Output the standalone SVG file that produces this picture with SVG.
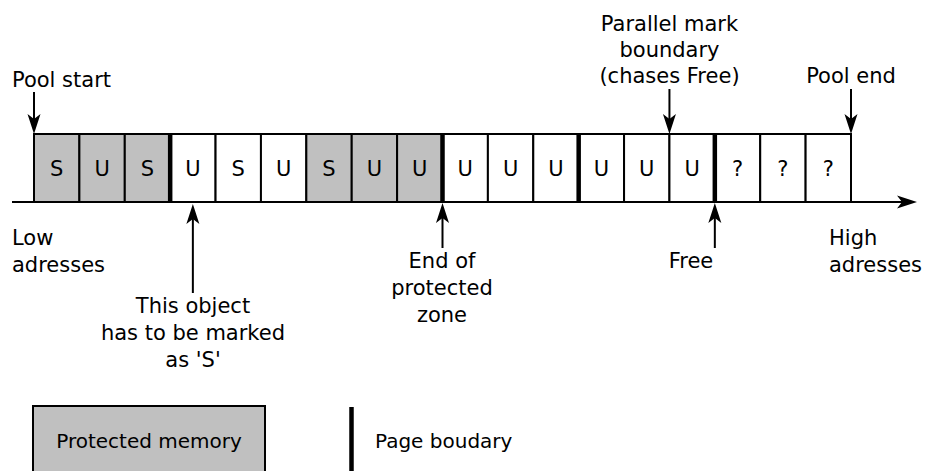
<svg xmlns="http://www.w3.org/2000/svg" width="927" height="471" viewBox="0 0 927 471">
  <style>
    text { font-family: "DejaVu Sans", "Liberation Sans", sans-serif; fill: #000; }
    .lbl { font-size: 21px; }
    .mid { text-anchor: middle; }
    .cell { stroke: #000; stroke-width: 2; }
    .prot { fill: #c0c0c0; }
    .free { fill: #fff; }
    .ct { font-size: 21px; text-anchor: middle; }
    .page { stroke: #000; stroke-width: 4.5; }
    .wire { stroke: #000; stroke-width: 2; fill: none; }
    .legend { font-size: 20px; }
  </style>
  <defs>
    <marker id="head" viewBox="-1 -8 23 16" refX="5" refY="0" markerWidth="23" markerHeight="16" markerUnits="userSpaceOnUse" orient="auto">
      <path d="M0,-6.5 L20,0 L0,6.5 L5,0 z" fill="#000"/>
    </marker>
  </defs>

  <!-- memory cells -->
  <g id="cells">
    <g id="cell0"><rect class="cell prot" x="34" y="134" width="45.39" height="68"/><text class="ct" x="56.69" y="175.5">S</text></g>
    <g id="cell1"><rect class="cell prot" x="79.39" y="134" width="45.39" height="68"/><text class="ct" x="102.08" y="175.5">U</text></g>
    <g id="cell2"><rect class="cell prot" x="124.78" y="134" width="45.39" height="68"/><text class="ct" x="147.47" y="175.5">S</text></g>
    <g id="cell3"><rect class="cell free" x="170.17" y="134" width="45.39" height="68"/><text class="ct" x="192.86" y="175.5">U</text></g>
    <g id="cell4"><rect class="cell free" x="215.56" y="134" width="45.39" height="68"/><text class="ct" x="238.25" y="175.5">S</text></g>
    <g id="cell5"><rect class="cell free" x="260.94" y="134" width="45.39" height="68"/><text class="ct" x="283.64" y="175.5">U</text></g>
    <g id="cell6"><rect class="cell prot" x="306.33" y="134" width="45.39" height="68"/><text class="ct" x="329.03" y="175.5">S</text></g>
    <g id="cell7"><rect class="cell prot" x="351.72" y="134" width="45.39" height="68"/><text class="ct" x="374.42" y="175.5">U</text></g>
    <g id="cell8"><rect class="cell prot" x="397.11" y="134" width="45.39" height="68"/><text class="ct" x="419.81" y="175.5">U</text></g>
    <g id="cell9"><rect class="cell free" x="442.5" y="134" width="45.39" height="68"/><text class="ct" x="465.19" y="175.5">U</text></g>
    <g id="cell10"><rect class="cell free" x="487.89" y="134" width="45.39" height="68"/><text class="ct" x="510.58" y="175.5">U</text></g>
    <g id="cell11"><rect class="cell free" x="533.28" y="134" width="45.39" height="68"/><text class="ct" x="555.97" y="175.5">U</text></g>
    <g id="cell12"><rect class="cell free" x="578.67" y="134" width="45.39" height="68"/><text class="ct" x="601.36" y="175.5">U</text></g>
    <g id="cell13"><rect class="cell free" x="624.06" y="134" width="45.39" height="68"/><text class="ct" x="646.75" y="175.5">U</text></g>
    <g id="cell14"><rect class="cell free" x="669.44" y="134" width="45.39" height="68"/><text class="ct" x="692.14" y="175.5">U</text></g>
    <g id="cell15"><rect class="cell free" x="714.83" y="134" width="45.39" height="68"/><text class="ct" x="737.53" y="175.5">?</text></g>
    <g id="cell16"><rect class="cell free" x="760.22" y="134" width="45.39" height="68"/><text class="ct" x="782.92" y="175.5">?</text></g>
    <g id="cell17"><rect class="cell free" x="805.61" y="134" width="45.39" height="68"/><text class="ct" x="828.31" y="175.5">?</text></g>
  </g>

  <!-- page boundaries -->
  <g id="pages">
    <line class="page" x1="170.17" y1="134" x2="170.17" y2="202"/>
    <line class="page" x1="442.5" y1="134" x2="442.5" y2="202"/>
    <line class="page" x1="578.67" y1="134" x2="578.67" y2="202"/>
    <line class="page" x1="714.83" y1="134" x2="714.83" y2="202"/>
  </g>

  <!-- address axis and pointers -->
  <g id="connectors">
    <line class="wire" x1="12" y1="202" x2="902" y2="202" marker-end="url(#head)"/>
    <line class="wire" x1="34" y1="92" x2="34" y2="119" marker-end="url(#head)"/>
    <line class="wire" x1="669.44" y1="89" x2="669.44" y2="119" marker-end="url(#head)"/>
    <line class="wire" x1="851" y1="89" x2="851" y2="119" marker-end="url(#head)"/>
    <line class="wire" x1="192.86" y1="293" x2="192.86" y2="219" marker-end="url(#head)"/>
    <line class="wire" x1="442.5" y1="248" x2="442.5" y2="218" marker-end="url(#head)"/>
    <line class="wire" x1="714.83" y1="248" x2="714.83" y2="218" marker-end="url(#head)"/>
  </g>

  <!-- labels -->
  <g id="pool-start"><text class="lbl" x="12" y="87">Pool start</text></g>
  <g id="mark-boundary">
    <text class="lbl mid" x="669.5" y="31">Parallel mark</text>
    <text class="lbl mid" x="669.5" y="57">boundary</text>
    <text class="lbl mid" x="669.5" y="83">(chases Free)</text>
  </g>
  <g id="pool-end"><text class="lbl mid" x="851" y="83">Pool end</text></g>
  <g id="low">
    <text class="lbl" x="12" y="245">Low</text>
    <text class="lbl" x="12" y="272">adresses</text>
  </g>
  <g id="high">
    <text class="lbl" x="829" y="245">High</text>
    <text class="lbl" x="829" y="272">adresses</text>
  </g>
  <g id="must-mark">
    <text class="lbl mid" x="193" y="313">This object</text>
    <text class="lbl mid" x="193" y="340">has to be marked</text>
    <text class="lbl mid" x="193" y="367">as 'S'</text>
  </g>
  <g id="end-protected">
    <text class="lbl mid" x="442" y="268">End of</text>
    <text class="lbl mid" x="442" y="295">protected</text>
    <text class="lbl mid" x="442" y="322">zone</text>
  </g>
  <g id="free"><text class="lbl mid" x="691" y="268">Free</text></g>

  <!-- legend -->
  <g id="legend-protected">
    <rect class="cell prot" x="33" y="406" width="232" height="70"/>
    <text class="legend mid" x="149" y="448">Protected memory</text>
  </g>
  <g id="legend-page">
    <line class="page" x1="351.5" y1="407" x2="351.5" y2="471"/>
    <text class="legend" x="375" y="448">Page boudary</text>
  </g>
</svg>
